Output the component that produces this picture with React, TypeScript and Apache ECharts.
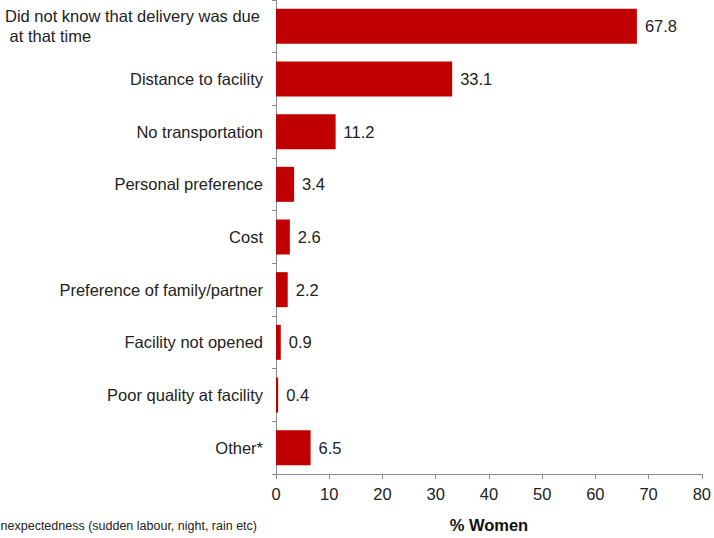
import React, { useEffect, useRef } from "react";
import * as echarts from "echarts";

const categories = [
  "Did not know that delivery was due\n at that time",
  "Distance to facility",
  "No transportation",
  "Personal preference",
  "Cost",
  "Preference of family/partner",
  "Facility not opened",
  "Poor quality at facility",
  "Other*",
];
const values = [67.8, 33.1, 11.2, 3.4, 2.6, 2.2, 0.9, 0.4, 6.5];
const xTicks = [0, 10, 20, 30, 40, 50, 60, 70, 80];
const footnote = "*Unexpectedness (sudden labour, night, rain etc)";
const xName = "% Women";

const FONT = "'Liberation Sans', Arial, Helvetica, sans-serif";
const FS = 16.5;

export default function App() {
  const ref = useRef<HTMLDivElement>(null);
  useEffect(() => {
    if (!ref.current) return;
    const chart = echarts.init(ref.current, null, { renderer: "svg", width: 714, height: 538 });
    chart.setOption({
      animation: false,
      textStyle: { fontFamily: FONT },
      grid: { left: 276, right: 9, top: 0, bottom: 60, containLabel: false },
      xAxis: {
        type: "value",
        min: xTicks[0],
        max: xTicks[xTicks.length - 1],
        interval: 10,
        name: xName,
        nameLocation: "middle",
        nameGap: 42,
        nameTextStyle: { fontFamily: FONT, fontSize: FS, fontWeight: "bold", color: "#111" },
        axisLine: { show: true, lineStyle: { color: "#8c8c8c", width: 1 } },
        axisTick: { show: true, length: 5, lineStyle: { color: "#8c8c8c" } },
        axisLabel: { fontFamily: FONT, fontSize: FS, color: "#222", margin: 11 },
        splitLine: { show: false },
      },
      yAxis: {
        type: "category",
        inverse: true,
        data: categories,
        axisLine: { show: true, lineStyle: { color: "#8c8c8c", width: 1 } },
        axisTick: { show: true, length: 4, lineStyle: { color: "#8c8c8c" } },
        axisLabel: {
          fontFamily: FONT,
          fontSize: FS,
          color: "#222",
          margin: 13,
          lineHeight: 20,
          formatter: (v: string) => {
            if (v.indexOf("\n") >= 0) {
              return v
                .split("\n")
                .map((s) => "{l|" + s + "}")
                .join("\n");
            }
            return v;
          },
          rich: {
            l: { fontFamily: FONT, fontSize: FS, color: "#222", lineHeight: 20, width: 258, align: "left" },
          },
        },
      },
      series: [
        {
          type: "bar",
          data: values,
          barWidth: 35,
          itemStyle: { color: "#c00000" },
          label: {
            show: true,
            position: "right",
            distance: 8,
            fontFamily: FONT,
            fontSize: FS,
            color: "#222",
            formatter: (p: any) => p.value.toFixed(1),
          },
        },
      ],
      graphic: [
        {
          type: "text",
          right: 714 - 257,
          top: 519,
          style: { text: footnote, fontFamily: FONT, fontSize: 12.5, fill: "#222" },
        },
      ],
    });
    return () => chart.dispose();
  }, []);
  return (
    <div
      ref={ref}
      style={{ position: "fixed", left: 0, top: 0, width: 714, height: 538, background: "#fff" }}
    />
  );
}
